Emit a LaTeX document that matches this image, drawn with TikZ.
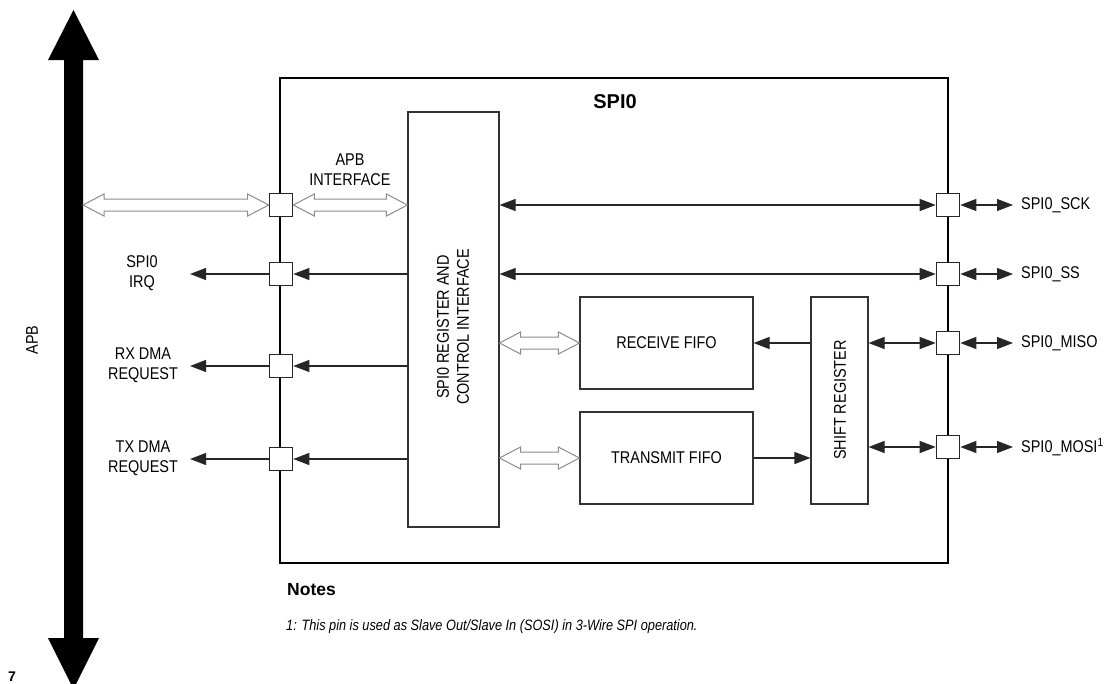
\documentclass[tikz,border=0pt]{standalone}
\usepackage{fontspec}
\setmainfont{Liberation Sans}[FakeStretch=0.85]
\newfontfamily\widesans{Liberation Sans}
\usetikzlibrary{arrows.meta,calc}
\tikzset{
  lbl/.style={font=\fontsize{17}{20}\selectfont, align=center, inner sep=0pt},
  box/.style={draw=black!80, line width=1.1pt, fill=white, inner sep=0pt},
  port/.style={draw=black!85, line width=1.1pt, fill=white, minimum size=23.5pt, inner sep=0pt},
  wire/.style={draw=black!85, line width=1.1pt},
  arr/.style={wire, -{Triangle[length=16pt,width=12pt]}},
  darr/.style={wire, {Triangle[length=16pt,width=12pt]}-{Triangle[length=16pt,width=12pt]}},
  hollow/.style={draw=black!45, line width=1pt, fill=white, line join=miter},
}
\newcommand\harrow[2]{%
  \draw[hollow] let \p1=(#1), \p2=(#2) in
    (\x1,\y1) -- ({\x1+21pt},{\y1+11pt}) -- ({\x1+21pt},{\y1+6pt}) --
    ({\x2-21pt},{\y1+6pt}) -- ({\x2-21pt},{\y1+11pt}) -- (\x2,\y1) --
    ({\x2-21pt},{\y1-11pt}) -- ({\x2-21pt},{\y1-6pt}) --
    ({\x1+21pt},{\y1-6pt}) -- ({\x1+21pt},{\y1-11pt}) -- cycle;}
\begin{document}
\begin{tikzpicture}[x=1pt,y=-1pt]
\useasboundingbox (0,0) rectangle (1108,683);
\fill[white] (0,0) rectangle (1108,683);

% APB bus arrow
\fill[black] (64,60) -- (48,60) -- (73.5,10) -- (99,60) -- (83,60) -- (83,638)
  -- (99,638) -- (73.5,689) -- (48,638) -- (64,638) -- cycle;
\node[lbl, rotate=90] (apb) at (32,340) {APB};
\node[font=\widesans\bfseries\fontsize{14}{16}\selectfont, inner sep=0pt] (seven) at (12,677) {7};

% main SPI0 block
\node[draw=black, line width=2pt, minimum width=668pt, minimum height=485pt, inner sep=0pt] (spi) at (614,320.5) {};
\node[font=\widesans\bfseries\fontsize{20}{22}\selectfont, inner sep=0pt] (title) at (615,102) {SPI0};

% inner blocks
\node[box, minimum width=91pt, minimum height=415pt] (reg) at (453.5,319.5) {};
\node[lbl, rotate=90] (regtxt) at (453,327) {SPI0 REGISTER AND\\CONTROL INTERFACE};
\node[box, minimum width=173pt, minimum height=92pt, lbl] (rfifo) at (666.5,343) {RECEIVE FIFO};
\node[box, minimum width=173pt, minimum height=92pt, lbl] (tfifo) at (666.5,458) {TRANSMIT FIFO};
\node[box, minimum width=57pt, minimum height=207pt] (shift) at (839.5,400.5) {};
\node[lbl, rotate=90] (shifttxt) at (840,400) {SHIFT REGISTER};

% ports
\node[port] (pA) at (281,205) {};
\node[port] (pIRQ) at (281,274) {};
\node[port] (pRX) at (281,366) {};
\node[port] (pTX) at (281,459) {};
\node[port] (pSCK) at (948,205) {};
\node[port] (pSS) at (948,274) {};
\node[port] (pMISO) at (948,343) {};
\node[port] (pMOSI) at (948,447) {};

% left side
\coordinate (bus) at (83,205);
\harrow{bus}{pA.west}
\harrow{pA.east}{reg.west |- pA}
\node[lbl] (apbif) at (350,170) {APB\\INTERFACE};

\coordinate (eIRQ) at (190,274);
\coordinate (eRX) at (190,366);
\coordinate (eTX) at (190,459);
\node[lbl] (lIRQ) at (142,273) {SPI0\\IRQ};
\node[lbl] (lRX) at (143,365) {RX DMA\\REQUEST};
\node[lbl] (lTX) at (143,458) {TX DMA\\REQUEST};
\draw[arr] (reg.west |- pIRQ) -- (pIRQ.east);
\draw[arr] (reg.west |- pRX) -- (pRX.east);
\draw[arr] (reg.west |- pTX) -- (pTX.east);
\draw[arr] (pIRQ.west) -- (eIRQ);
\draw[arr] (pRX.west) -- (eRX);
\draw[arr] (pTX.west) -- (eTX);

% inner connections
\draw[darr] (reg.east |- pSCK) -- (pSCK.west);
\draw[darr] (reg.east |- pSS) -- (pSS.west);
\harrow{reg.east |- rfifo}{rfifo.west}
\harrow{reg.east |- tfifo}{tfifo.west}
\draw[arr] (shift.west |- rfifo) -- (rfifo.east);
\draw[arr] (tfifo.east) -- (shift.west |- tfifo);
\draw[darr] (shift.east |- pMISO) -- (pMISO.west);
\draw[darr] (shift.east |- pMOSI) -- (pMOSI.west);

% right side
\node[lbl, anchor=west, inner xsep=8pt] (lSCK) at (1013,205) {SPI0\_SCK};
\node[lbl, anchor=west, inner xsep=8pt] (lSS) at (1013,274) {SPI0\_SS};
\node[lbl, anchor=west, inner xsep=8pt] (lMISO) at (1013,343) {SPI0\_MISO};
\node[lbl, anchor=west, inner xsep=8pt] (lMOSI) at (1013,447) {SPI0\_MOSI\textsuperscript{1}};
\draw[darr] (pSCK.east) -- (lSCK.west);
\draw[darr] (pSS.east) -- (lSS.west);
\draw[darr] (pMISO.east) -- (lMISO.west);
\draw[darr] (pMOSI.east) -- (lMOSI.west);

% notes
\node[font=\widesans\bfseries\fontsize{17.5}{20}\selectfont, anchor=west, inner sep=0pt] (notes) at (287,590) {Notes};
\node[font=\itshape\fontsize{15}{18}\selectfont, anchor=west, inner sep=0pt] (fn) at (286,627) {1: This pin is used as Slave Out/Slave In (SOSI) in 3-Wire SPI operation.};
\end{tikzpicture}
\end{document}
